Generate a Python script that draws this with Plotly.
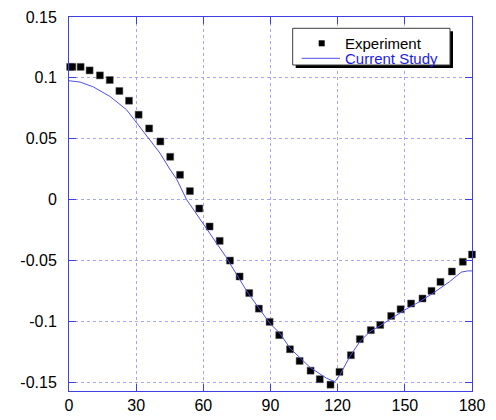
import plotly.graph_objects as go

exp_angle = [0.5, 1.5, 5.2, 9.2, 13.8, 18.2, 22.5, 26.8, 31.1, 35.8, 40.8, 45.2, 49.6, 54, 58.2,
             62.8, 67.3, 71.9, 76.2, 80.5, 84.8, 89.6, 93.9, 98.7, 103, 107.9, 112, 116.8,
             120.8, 125.9, 129.9, 134.8, 139, 143.9, 148.1, 152.8, 157.9, 161.9, 165.9, 171, 175.9, 180]
exp_val = [0.109, 0.109, 0.109, 0.1061, 0.1020, 0.0982, 0.0892, 0.0812, 0.0697, 0.0584, 0.0477,
           0.0351, 0.0203, 0.0069, -0.0074, -0.0222, -0.0340, -0.0502, -0.0633, -0.0769, -0.0897,
           -0.1006, -0.1115, -0.1231, -0.1327, -0.1407, -0.1477, -0.1522, -0.1417, -0.1280, -0.1148,
           -0.1074, -0.1031, -0.0957, -0.0902, -0.0855, -0.0814, -0.0751, -0.0677, -0.0592, -0.0512, -0.0452]

cur_angle = [0, 5, 10.9, 18.3, 25.7, 30.2, 34.7, 40.6, 45, 48, 52.5, 56, 60, 65, 70, 76.3, 80,
             89.8, 94.2, 98.7, 107.6, 115, 118.8, 121, 125.4, 129.9, 134.4, 138.8, 144, 150,
             156.7, 162.6, 170, 175.2, 178.1, 180]
cur_val = [0.0976, 0.0965, 0.0925, 0.0847, 0.0738, 0.0628, 0.0518, 0.0382, 0.0250, 0.0170, 0.0,
           -0.0095, -0.0200, -0.0335, -0.0469, -0.066, -0.077, -0.102, -0.110, -0.1222, -0.1379,
           -0.1469, -0.1497, -0.1442, -0.1291, -0.1168, -0.1086, -0.1039, -0.0976, -0.0907,
           -0.0839, -0.077, -0.0675, -0.0597, -0.0587, -0.0587]

x_ticks = [0, 30, 60, 90, 120, 150, 180]
y_ticks = [-0.15, -0.1, -0.05, 0, 0.05, 0.1, 0.15]
y_labels = ["-0.15", "-0.1", "-0.05", "0", "0.05", "0.1", "0.15"]

series_names = ["Experiment", "Current Study"]

AX = "rgb(64,64,224)"
GRID = "rgb(165,165,245)"
LINE_BLUE = "rgb(80,80,230)"
TEXT_BLUE = "rgb(30,30,230)"
FONT = "Liberation Sans, Arial, sans-serif"

# plot area in pixels
L, R, T, B = 69, 472, 17, 391
W, H = 496, 420


def px(x):
    return (x - L) / (R - L)


def py(y):
    return (B - y) / (B - T)


fig = go.Figure()
fig.add_trace(go.Scatter(x=exp_angle, y=exp_val, mode="markers", name=series_names[0],
                         marker=dict(symbol="square", size=7, color="black",
                                     line=dict(color="rgb(90,90,90)", width=0.5)),
                         cliponaxis=False, showlegend=False))
fig.add_trace(go.Scatter(x=cur_angle, y=cur_val, mode="lines", name=series_names[1],
                         line=dict(color=LINE_BLUE, width=1), showlegend=False))

axis_common = dict(showline=True, linecolor=AX, linewidth=1, mirror="ticks",
                   ticks="inside", ticklen=7, tickcolor=AX, showgrid=True,
                   gridcolor=GRID, griddash="dot", gridwidth=1, zeroline=False,
                   automargin=False,
                   tickfont=dict(family=FONT, size=16, color="black"))

fig.update_xaxes(range=[0, 180], tickvals=x_ticks, **axis_common)
fig.update_yaxes(range=[-0.1574, 0.15], tickvals=y_ticks, ticktext=y_labels,
                 ticklabelstandoff=8, **axis_common)

# manual legend (box with drop shadow)
shapes = [
    dict(type="rect", xref="paper", yref="paper",
         x0=px(295.7), x1=px(453), y0=py(68), y1=py(31.3),
         fillcolor="black", line=dict(width=0), layer="above"),
    dict(type="rect", xref="paper", yref="paper",
         x0=px(292.7), x1=px(450), y0=py(65), y1=py(28.3),
         fillcolor="white", line=dict(color="rgb(60,60,60)", width=1), layer="above"),
    dict(type="rect", xref="paper", yref="paper",
         x0=px(318.7), x1=px(324.7), y0=py(46.3), y1=py(40.3),
         fillcolor="black", line=dict(width=0), layer="above"),
    dict(type="line", xref="paper", yref="paper",
         x0=px(301.7), x1=px(340), y0=py(58.3), y1=py(58.3),
         line=dict(color=LINE_BLUE, width=1), layer="above"),
]
annotations = [
    dict(xref="paper", yref="paper", x=px(343), y=py(43.3), text=series_names[0],
         showarrow=False, xanchor="left", yanchor="middle",
         font=dict(family=FONT, size=15, color="black")),
    dict(xref="paper", yref="paper", x=px(343), y=py(58.3), text=series_names[1],
         showarrow=False, xanchor="left", yanchor="middle",
         font=dict(family=FONT, size=15, color=TEXT_BLUE)),
]

fig.update_layout(
    width=W, height=H,
    margin=dict(l=L, r=W - R, t=T, b=H - B),
    plot_bgcolor="white", paper_bgcolor="white",
    showlegend=False,
    shapes=shapes, annotations=annotations,
)

fig.write_html("out.html", config={"displayModeBar": False},
               post_script="document.body.style.margin='0px';")
